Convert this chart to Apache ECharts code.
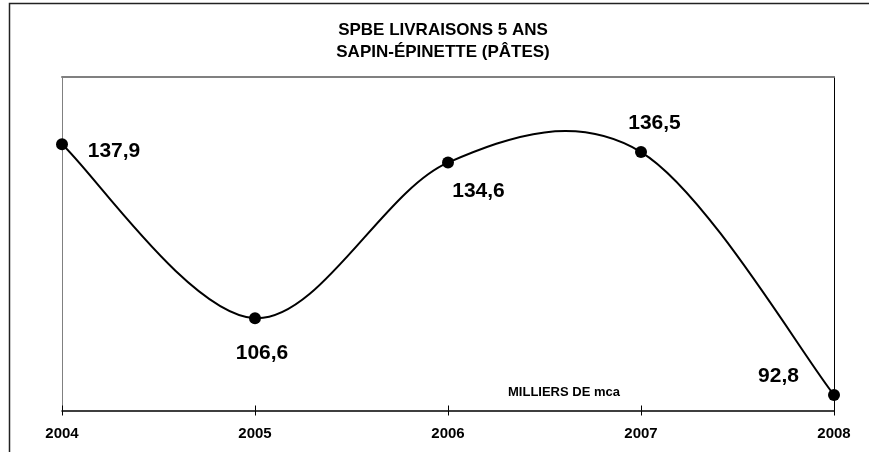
<!DOCTYPE html>
<html>
<head>
<meta charset="utf-8">
<script src="https://cdn.jsdelivr.net/npm/echarts@6/dist/echarts.min.js"></script>
<style>
html,body{margin:0;padding:0;background:#fff;}
#chart{width:869px;height:452px;}
</style>
</head>
<body>
<div id="chart"></div>
<script>
const titleLines = ['SPBE LIVRAISONS 5 ANS', 'SAPIN-ÉPINETTE (PÂTES)'];
const categories = ['2004', '2005', '2006', '2007', '2008'];
const values = [137.9, 106.6, 134.6, 136.5, 92.8];
const unitLabel = 'MILLIERS DE mca';

// label placement (style only)
const labelOffsets = [[52, 6.5], [7, 35], [30.5, 29], [13.5, -29], [-55.5, -19]];

const chart = echarts.init(document.getElementById('chart'), null, {renderer: 'canvas'});
const FONT = 'Liberation Sans, Arial, sans-serif';

const seriesData = values.map((v, i) => ({
  value: v,
  label: {offset: labelOffsets[i]}
}));

// Excel-like smoothed curve: cubic Bezier segments between data points,
// positioned through the axes via api.coord.
function renderCurve(params, api) {
  const i = params.dataIndex;
  const n = values.length;
  if (i >= n - 1) return null;
  const P = j => {
    const k = Math.max(0, Math.min(n - 1, j));
    return api.coord([k, values[k]]);
  };
  const p0 = P(i - 1), p1 = P(i), p2 = P(i + 1), p3 = P(i + 2);
  const t = 1 / 6;
  return {
    type: 'bezierCurve',
    shape: {
      x1: p1[0], y1: p1[1],
      cpx1: p1[0] + (p2[0] - p0[0]) * t, cpy1: p1[1] + (p2[1] - p0[1]) * t,
      cpx2: p2[0] - (p3[0] - p1[0]) * t, cpy2: p2[1] - (p3[1] - p1[1]) * t,
      x2: p2[0], y2: p2[1]
    },
    style: {stroke: '#000', lineWidth: 2, fill: null}
  };
}

chart.setOption({
  animation: false,
  backgroundColor: '#fff',
  title: {
    text: titleLines.join('\n'),
    left: 443,
    top: 19,
    padding: 0,
    textAlign: 'center',
    textStyle: {fontFamily: FONT, fontSize: 17, fontWeight: 'bold', color: '#000', lineHeight: 22}
  },
  graphic: [
    {type: 'rect', silent: true, shape: {x: 9.5, y: 3.5, width: 1000, height: 1000},
     style: {fill: null, stroke: '#222', lineWidth: 1.5}, z: 0},
    {type: 'text', silent: true, left: 508, top: 386,
     style: {text: unitLabel, fontFamily: FONT, fontSize: 13, fontWeight: 'bold', fill: '#000'}}
  ],
  grid: {left: 62, right: 35, top: 77, bottom: 41.5, containLabel: false},
  xAxis: [
    {type: 'category', data: categories, boundaryGap: false, position: 'bottom',
     axisLine: {show: true, lineStyle: {color: '#000', width: 1.5}},
     axisTick: {show: true, inside: false, length: 5, lineStyle: {color: '#000', width: 1}},
     axisLabel: {show: true, margin: 16, fontFamily: FONT, fontSize: 15, fontWeight: 'bold', color: '#000'},
     splitLine: {show: false}},
    {type: 'category', data: categories, boundaryGap: false, position: 'bottom', gridIndex: 0,
     axisLine: {show: false},
     axisTick: {show: true, inside: true, length: 5, lineStyle: {color: '#000', width: 1}},
     axisLabel: {show: false}, splitLine: {show: false}},
    {type: 'category', data: categories, boundaryGap: false, position: 'top',
     axisLine: {show: true, lineStyle: {color: '#808080', width: 2}},
     axisTick: {show: false}, axisLabel: {show: false}, splitLine: {show: false}}
  ],
  yAxis: [
    {type: 'value', min: 90, max: 150, position: 'left',
     axisLine: {show: true, lineStyle: {color: '#808080', width: 1}},
     axisTick: {show: false}, axisLabel: {show: false}, splitLine: {show: false}},
    {type: 'value', min: 90, max: 150, position: 'right',
     axisLine: {show: true, lineStyle: {color: '#000', width: 1}},
     axisTick: {show: false}, axisLabel: {show: false}, splitLine: {show: false}}
  ],
  series: [
    {
      type: 'custom',
      xAxisIndex: 0,
      yAxisIndex: 0,
      data: values.map((v, i) => [i, v]),
      encode: {x: 0, y: 1},
      renderItem: renderCurve,
      clip: false,
      silent: true,
      z: 4
    },
    {
      type: 'line',
      xAxisIndex: 0,
      yAxisIndex: 0,
      data: seriesData,
      symbol: 'circle',
      symbolSize: 12,
      itemStyle: {color: '#000'},
      lineStyle: {width: 0, opacity: 0},
      label: {
        show: true,
        position: 'inside',
        align: 'center',
        verticalAlign: 'middle',
        fontFamily: FONT,
        fontSize: 21,
        fontWeight: 'bold',
        color: '#000',
        formatter: p => String(p.value).replace('.', ',')
      },
      z: 5
    }
  ]
});
</script>
</body>
</html>
